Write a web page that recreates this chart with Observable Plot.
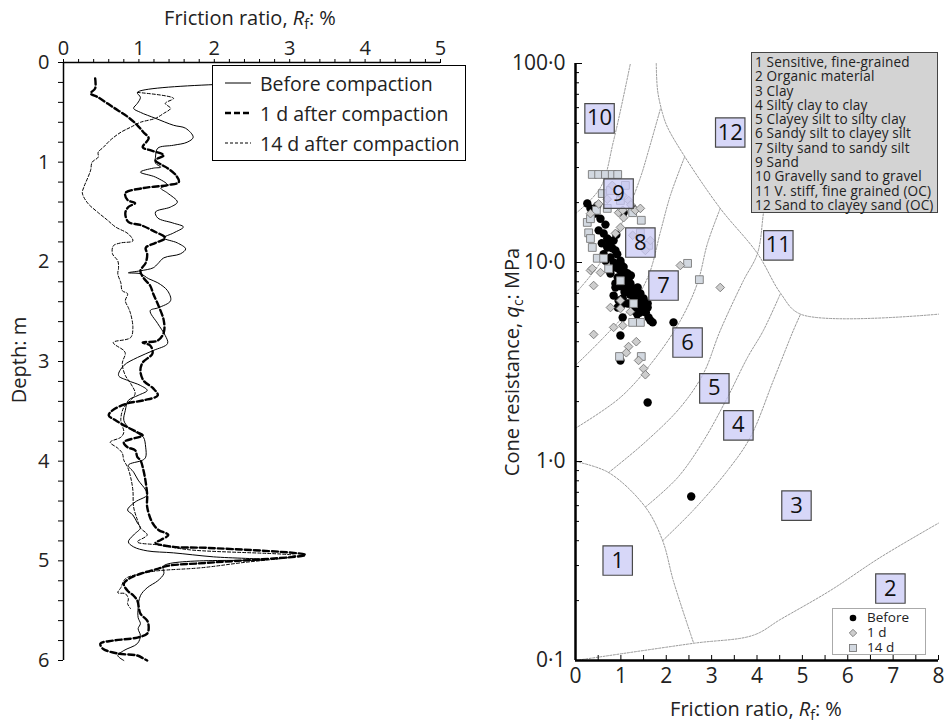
<!DOCTYPE html>
<html><head><meta charset="utf-8">
<script src="https://cdn.jsdelivr.net/npm/d3@7"></script>
<script src="https://cdn.jsdelivr.net/npm/@observablehq/plot@0.6"></script>
<style>
body{margin:0;background:#fff;font-family:"Open Sans",sans-serif;color:#222}
#wrap{position:relative;width:949px;height:726px;overflow:hidden;background:#fff}
.abs{position:absolute;white-space:nowrap}
.c{transform:translate(-50%,-50%)}
.rot{transform:translate(-50%,-50%) rotate(-90deg)}
sub{font-size:70%;vertical-align:-0.3em;line-height:0}
</style></head><body><div id="wrap"></div>
<script>
// ---------- LEFT PANEL: depth profiles, pairs [depth (m), Rf (%)] ----------
const profBefore = [[0.20,3.00],[0.30,0.98],[0.35,1.02],[0.41,0.98],[0.46,0.93],[0.50,1.02],[0.56,1.22],[0.63,1.46],[0.66,1.62],[0.75,1.72],[0.80,1.64],[0.83,1.46],[0.86,1.25],[0.95,1.22],[1.01,1.22],[1.05,1.29],[1.06,1.19],[1.10,1.02],[1.15,1.22],[1.23,1.38],[1.26,1.29],[1.31,1.38],[1.40,1.51],[1.45,1.42],[1.50,1.22],[1.56,1.25],[1.61,1.45],[1.65,1.59],[1.71,1.46],[1.76,1.33],[1.81,1.51],[1.87,1.62],[1.92,1.55],[1.96,1.33],[2.02,1.25],[2.06,1.19],[2.09,1.02],[2.11,0.86],[2.12,1.02],[2.17,1.13],[2.21,1.25],[2.29,1.38],[2.39,1.42],[2.46,1.26],[2.49,1.15],[2.62,1.25],[2.74,1.35],[2.82,1.38],[2.89,1.19],[2.96,0.98],[3.04,0.80],[3.14,0.73],[3.19,0.85],[3.24,1.02],[3.29,1.11],[3.34,0.99],[3.39,0.86],[3.49,0.82],[3.59,0.80],[3.66,0.86],[3.72,0.98],[3.76,1.06],[3.86,1.09],[3.96,1.09],[3.99,1.05],[4.04,0.86],[4.11,0.93],[4.19,0.99],[4.29,1.09],[4.34,1.11],[4.41,0.95],[4.49,0.85],[4.54,0.92],[4.62,0.98],[4.67,1.02],[4.74,0.93],[4.81,0.86],[4.86,0.93],[4.90,1.11],[4.92,1.46],[4.96,1.99],[4.99,2.68],[5.05,1.33],[5.13,1.33],[5.20,1.25],[5.27,1.11],[5.35,1.02],[5.47,0.99],[5.57,0.99],[5.63,1.02],[5.68,0.99],[5.75,1.02],[5.83,0.98],[5.90,0.80],[5.95,0.72],[6.00,0.80]];
const prof1d = [[0.16,0.42],[0.26,0.42],[0.31,0.36],[0.35,0.46],[0.45,0.66],[0.55,0.86],[0.63,0.98],[0.70,1.06],[0.76,1.13],[0.85,1.05],[0.88,1.15],[0.93,1.33],[0.98,1.22],[1.03,1.31],[1.06,1.38],[1.13,1.49],[1.20,1.53],[1.23,1.38],[1.26,1.06],[1.31,0.82],[1.38,0.85],[1.41,0.95],[1.45,0.86],[1.51,0.82],[1.60,0.86],[1.63,1.02],[1.69,1.19],[1.76,1.35],[1.81,1.22],[1.86,1.09],[1.92,1.11],[2.01,1.09],[2.09,1.02],[2.16,1.06],[2.24,1.15],[2.32,1.19],[2.44,1.26],[2.59,1.33],[2.71,1.33],[2.79,1.25],[2.81,1.05],[2.84,1.15],[2.92,1.18],[3.01,1.05],[3.09,1.02],[3.19,1.06],[3.27,1.19],[3.34,1.25],[3.39,1.06],[3.42,0.85],[3.49,0.65],[3.54,0.60],[3.59,0.69],[3.66,0.85],[3.71,0.98],[3.74,1.05],[3.81,0.80],[3.86,0.85],[3.89,0.95],[3.96,0.98],[3.99,1.02],[4.09,1.06],[4.21,1.09],[4.34,1.11],[4.46,1.11],[4.62,1.18],[4.69,1.26],[4.74,1.39],[4.79,1.29],[4.82,1.22],[4.86,1.46],[4.87,1.91],[4.94,3.21],[5.02,1.91],[5.05,1.38],[5.08,1.25],[5.12,1.06],[5.17,0.89],[5.23,0.80],[5.30,0.85],[5.35,0.93],[5.40,0.98],[5.53,1.02],[5.60,1.11],[5.67,1.13],[5.73,1.11],[5.77,0.98],[5.80,0.66],[5.83,0.49],[5.88,0.52],[5.93,0.72],[5.95,0.98],[5.98,1.06],[6.00,1.11]];
const prof14d = [[0.30,0.98],[0.36,1.46],[0.41,1.35],[0.46,1.42],[0.51,1.33],[0.56,1.22],[0.60,1.02],[0.65,0.89],[0.70,0.76],[0.78,0.62],[0.85,0.53],[0.90,0.46],[0.95,0.46],[1.00,0.38],[1.08,0.36],[1.16,0.32],[1.25,0.27],[1.31,0.25],[1.41,0.32],[1.50,0.45],[1.58,0.58],[1.65,0.69],[1.72,0.86],[1.79,0.92],[1.81,0.76],[1.84,0.66],[1.92,0.65],[1.99,0.72],[2.06,0.73],[2.12,0.72],[2.21,0.76],[2.29,0.78],[2.32,0.85],[2.39,0.82],[2.46,0.86],[2.52,0.89],[2.66,0.92],[2.76,0.89],[2.81,0.66],[2.89,0.80],[2.92,0.82],[3.02,0.78],[3.14,0.82],[3.22,0.89],[3.32,0.95],[3.39,0.89],[3.46,0.80],[3.59,0.76],[3.71,0.80],[3.76,0.76],[3.81,0.62],[3.87,0.72],[3.92,0.78],[3.99,0.80],[4.06,0.85],[4.16,0.89],[4.29,0.92],[4.46,0.93],[4.59,0.98],[4.67,1.02],[4.74,1.11],[4.81,0.98],[4.84,1.25],[4.89,1.68],[4.95,3.08],[5.02,2.35],[5.07,1.82],[5.10,1.25],[5.13,1.02],[5.18,0.82],[5.27,0.76],[5.32,0.72],[5.33,0.82],[5.38,0.86],[5.43,0.85],[5.48,0.89]];
const leftSeriesLabels = ["Before compaction","1 d after compaction","14 d after compaction"];
const leftXTicks = [0,1,2,3,4,5];
const leftYTicks = [0,1,2,3,4,5,6];

// ---------- RIGHT PANEL: CPT points, pairs [Rf (%), qc (MPa)] ----------
const ptsBefore = [[0.33,18.7],[0.44,17.6],[0.51,14.5],[0.55,16.6],[0.48,19.3],[0.26,19.8],[0.73,12.9],[0.84,12.9],[0.70,11.9],[0.81,11.8],[0.88,11.5],[0.62,11.0],[0.77,10.6],[0.84,10.0],[0.66,10.2],[0.99,10.2],[0.88,9.44],[0.77,8.81],[0.95,9.3],[0.99,9.12],[1.10,8.9],[1.15,8.8],[1.04,8.41],[0.93,8.41],[1.17,8.3],[1.21,7.84],[0.88,7.84],[0.88,7.49],[1.17,7.49],[1.37,7.49],[1.28,7.4],[1.37,6.98],[1.43,6.98],[0.84,6.82],[1.28,6.67],[1.04,6.6],[1.50,6.6],[0.95,6.44],[1.43,6.44],[1.15,6.22],[1.21,6.22],[1.59,6.22],[1.50,6.08],[1.37,6.08],[1.59,5.94],[1.48,5.94],[0.93,5.94],[1.28,5.74],[1.04,5.29],[1.61,5.29],[1.65,5.11],[1.70,5.0],[2.16,5.0],[0.99,4.30],[0.99,3.22],[1.59,1.98],[2.55,0.667],[1.26,18.7],[1.06,17.8],[0.62,14.0],[0.70,13.2],[0.77,12.4],[0.92,11.0],[1.00,9.8],[1.06,9.5],[1.12,8.2],[1.25,7.2],[1.32,7.0],[1.20,6.9],[1.08,7.1],[1.00,7.6],[1.30,6.3],[1.42,5.6],[1.36,5.5],[1.55,5.6],[0.90,13.8],[0.66,15.5],[0.58,12.5],[1.12,7.7],[1.22,8.6],[0.96,8.0],[1.05,6.2],[1.40,6.0]];
const pts1d = [[0.51,19.7],[0.33,17.6],[0.95,17.8],[1.04,18.3],[1.32,18.3],[1.43,18.7],[1.06,16.8],[0.99,15.0],[0.88,14.0],[1.26,13.7],[1.54,11.5],[1.65,12.9],[0.81,24.4],[1.04,21.7],[1.17,20.5],[0.33,9.12],[0.37,9.33],[0.55,8.9],[0.40,7.66],[0.77,5.94],[0.99,5.87],[1.21,5.66],[0.99,6.44],[0.84,4.72],[1.04,4.82],[0.40,4.35],[1.17,3.78],[1.34,4.0],[1.12,3.52],[1.39,3.22],[1.50,2.93],[1.54,2.73],[2.31,9.66],[3.19,7.49],[1.22,19.5],[0.70,20.8]];
const pts14d = [[0.37,27.7],[0.51,27.7],[0.66,27.7],[0.81,27.7],[0.93,27.7],[0.59,22.2],[0.46,18.3],[0.70,18.7],[0.26,15.9],[0.33,16.6],[0.29,14.1],[0.33,13.2],[0.37,11.9],[0.48,10.5],[0.62,10.5],[0.73,9.3],[0.99,8.1],[1.28,6.22],[1.26,5.0],[1.43,5.0],[1.45,16.3],[1.26,17.8],[2.47,9.9],[2.73,8.2],[0.97,3.37],[1.45,3.37],[0.77,23.0],[0.99,20.5],[1.10,24.4],[1.43,14.1],[1.61,12.2]];
const rightSeriesLabels = ["Before","1 d","14 d"];

// Soil behaviour type zone boundaries, pairs [Rf (%), qc (MPa)]
const bZone1 = [[0,1.0],[0.73,0.88],[1.54,0.59],[1.92,0.40],[2.16,0.25],[2.60,0.123]];
const bZone2 = [[0,0.10],[2.60,0.122],[3.92,0.134],[4.52,0.161],[5.62,0.225],[6.72,0.33],[8.0,0.49]];
const b10to9 = [[0,17.6],[0.55,23.8],[0.84,41],[1.21,100]];
const bZone12 = [[1.78,100],[1.81,73],[1.92,56],[2.03,47.7],[2.42,33.7],[3.19,18.7],[4.01,11.1],[4.52,7.0],[4.96,5.5],[8.0,5.5]];
const b9to8 = [[0,7.0],[0.55,10],[1.10,17.2],[1.43,26.7],[1.61,36.5],[1.87,59]];
const b8to7 = [[0,3.04],[0.62,4.2],[1.21,5.94],[1.61,8.6],[1.87,14.2],[2.09,21.7],[2.40,33.7]];
const b7to6 = [[0,1.47],[0.99,2.1],[1.72,3.22],[2.31,5.1],[2.69,7.9],[2.91,12.5],[3.19,18.7]];
const b6to5 = [[0.73,0.88],[1.50,1.23],[2.31,1.87],[2.82,2.77],[3.19,4.55],[3.70,8.1],[4.01,11.1],[4.14,17.6],[4.30,36.5],[4.47,100]];
const b5to4 = [[1.54,0.59],[2.25,0.83],[2.82,1.27],[3.35,2.1],[3.79,3.33],[4.14,4.55],[4.52,7.0]];
const b4to3 = [[1.92,0.40],[2.60,0.57],[3.35,0.90],[3.85,1.32],[4.36,2.55],[4.80,4.55],[4.96,5.5]];

const zoneIds = ["1","2","3","4","5","6","7","8","9","10","11","12"];
const zoneRf  = [0.93,6.94,4.87,3.59,3.06,2.47,1.94,1.43,0.95,0.53,4.47,3.41];
const zoneQc  = [0.318,0.23,0.60,1.52,2.33,3.96,7.66,12.6,22.2,53,12.2,45];
const zoneNames = ["1 Sensitive, fine-grained","2 Organic material","3 Clay","4 Silty clay to clay","5 Clayey silt to silty clay","6 Sandy silt to clayey silt","7 Silty sand to sandy silt","9 Sand","10 Gravelly sand to gravel","11 V. stiff, fine grained (OC)","12 Sand to clayey sand (OC)"];

const rightXTicks = [0,1,2,3,4,5,6,7,8];
const rightYTicks = [0.1,1,10,100];
const rightYTickLabels = ["0·1","1·0","10·0","100·0"];

// ---------------------------------------------------------------
const F = '"Open Sans", sans-serif';
const wrap = document.getElementById("wrap");

const leftXMinor = d3.range(0, 5.001, 0.2);
const leftYMinor = d3.range(0, 6.001, 0.2);

const left = Plot.plot({
  width: 480, height: 726,
  marginLeft: 63, marginRight: 40, marginTop: 62, marginBottom: 66,
  style: {fontFamily: F, fontSize: "20px", color: "#222", background: "transparent", overflow: "visible"},
  x: {domain: [0, 5]},
  y: {domain: [0, 6], reverse: true},
  marks: [
    Plot.axisX({anchor: "top", ticks: leftXMinor, tickSize: 4, fill: "none", stroke: "#000", label: null}),
    Plot.axisX({anchor: "top", ticks: leftXTicks, tickSize: 0, tickPadding: 8, label: null, fill: "#222", fontSize: 20, tickFormat: d => String(d)}),
    Plot.axisY({anchor: "left", ticks: leftYMinor, tickSize: 5, fill: "none", stroke: "#000", label: null}),
    Plot.axisY({anchor: "left", ticks: leftYTicks, tickSize: 0, tickPadding: 14, label: null, fill: "#222", fontSize: 20, tickFormat: d => String(d)}),
    Plot.ruleX([0], {stroke: "#000", strokeWidth: 1.5}),
    Plot.ruleY([0], {stroke: "#000", strokeWidth: 1.5}),
    Plot.line(profBefore, {x: d => d[1], y: d => d[0], stroke: "#000", strokeWidth: 1, curve: "catmull-rom"}),
    Plot.line(prof14d, {x: d => d[1], y: d => d[0], stroke: "#000", strokeWidth: 1, strokeDasharray: "3,2", curve: "catmull-rom"}),
    Plot.line(prof1d, {x: d => d[1], y: d => d[0], stroke: "#000", strokeWidth: 2.4, strokeDasharray: "6,3", curve: "catmull-rom"})
  ]
});
left.style.position = "absolute"; left.style.left = "0px"; left.style.top = "0px";
wrap.appendChild(left);

const rightXMinor = d3.range(0, 8.001, 0.5);
const rightYMinor = [0.1, 1, 10].flatMap(b => [2,3,4,5,6,7,8,9].map(m => +(m * b).toPrecision(3)));
const boundaries = [bZone1, bZone2, b10to9, bZone12, b9to8, b8to7, b7to6, b6to5, b5to4, b4to3];
const zones = zoneIds.map((id, i) => ({id, rf: zoneRf[i], qc: zoneQc[i]}));

const right = Plot.plot({
  width: 469, height: 726,
  marginLeft: 95, marginRight: 11, marginTop: 63, marginBottom: 66,
  style: {fontFamily: F, fontSize: "20px", color: "#222", background: "transparent", overflow: "visible"},
  x: {domain: [0, 8]},
  y: {type: "log", domain: [0.1, 100]},
  marks: [
    ...boundaries.map(b => Plot.line(b, {x: d => d[0], y: d => d[1], stroke: "#8c8c8c", strokeWidth: 0.9, strokeDasharray: "2,1.5", curve: "catmull-rom"})),
    Plot.dot(ptsBefore, {x: d => d[0], y: d => d[1], r: 4.2, fill: "#000", stroke: "none"}),
    Plot.dot(pts14d, {x: d => d[0], y: d => d[1], symbol: "square", r: 4.4, fill: "#d2d8e0", stroke: "#7a7a7a", strokeWidth: 0.9}),
    Plot.dot(pts1d, {x: d => d[0], y: d => d[1], symbol: "diamond2", r: 3.9, fill: "#cdcdcd", stroke: "#777", strokeWidth: 0.9}),
    Plot.dot(zones, {x: "rf", y: "qc", symbol: "square", r: 16.6, fill: "#c9c9f5", fillOpacity: 0.75, stroke: "#4a4a4a", strokeWidth: 1.2}),
    Plot.text(zones, {x: "rf", y: "qc", text: "id", fontSize: 22, fill: "#111"}),
    Plot.axisX({ticks: rightXMinor, tickSize: -5, fill: "none", stroke: "#000", label: null}),
    Plot.axisX({ticks: rightXTicks, tickSize: 0, tickPadding: 8, label: null, fill: "#222", fontSize: 21, tickFormat: d => String(d)}),
    Plot.axisY({ticks: rightYMinor, tickSize: -4, fill: "none", stroke: "#000", label: null}),
    Plot.axisY({ticks: rightYTicks, tickSize: -7, fill: "none", stroke: "#000", label: null}),
    Plot.axisY({ticks: rightYTicks, tickSize: 0, tickPadding: 10, label: null, fill: "#222", fontSize: 21, tickFormat: d => rightYTickLabels[rightYTicks.indexOf(d)]}),
    Plot.ruleX([0], {stroke: "#000", strokeWidth: 2.5}),
    Plot.ruleY([0.1], {stroke: "#000", strokeWidth: 2.5})
  ]
});
right.style.position = "absolute"; right.style.left = "480px"; right.style.top = "0px";
wrap.appendChild(right);

// ---------- text overlays ----------
function addDiv(html, css, cls) {
  const d = document.createElement("div");
  d.className = "abs " + (cls || "");
  d.innerHTML = html;
  Object.assign(d.style, css);
  wrap.appendChild(d);
  return d;
}
const rfLabel = 'Friction ratio, <i>R</i><sub>f</sub>: %';
addDiv(rfLabel, {left: "250px", top: "17px", fontSize: "20px"}, "c");
addDiv("Depth: m", {left: "18px", top: "360px", fontSize: "20px"}, "rot");
addDiv(rfLabel, {left: "756px", top: "708px", fontSize: "20px"}, "c");
addDiv('Cone resistance, <i>q</i><sub>c</sub>: MPa', {left: "511px", top: "362px", fontSize: "20px"}, "rot");

// left legend
const legL = addDiv("", {left: "212px", top: "65px", width: "252px", height: "94px", border: "1px solid #000", background: "#fff"});
const dashes = [null, "6,3", "3,2"], widths = [1, 2.4, 1];
leftSeriesLabels.forEach((lab, i) => {
  const row = document.createElement("div");
  row.style.cssText = `position:absolute;left:12px;top:${4 + i * 30}px;height:26px;display:flex;align-items:center;font-size:19.5px;color:#222`;
  row.innerHTML = `<svg width="28" height="10" style="margin-right:7px"><line x1="0" x2="26" y1="5" y2="5" stroke="#000" stroke-width="${widths[i]}" ${dashes[i] ? `stroke-dasharray="${dashes[i]}"` : ""}/></svg>${lab}`;
  legL.appendChild(row);
});

// zone legend
const legZ = addDiv("", {left: "751px", top: "52px", width: "187px", height: "161px", border: "1px solid #444", background: "#d3d3d3", boxSizing: "border-box", padding: "2px 0 0 3px", fontSize: "13.6px", lineHeight: "14.3px", letterSpacing: "0.15px", color: "#222"});
legZ.innerHTML = zoneNames.map(n => `<div>${n}</div>`).join("");

// right series legend
const legR = addDiv("", {left: "832px", top: "608px", width: "94px", height: "47px", border: "1px solid #aaa", background: "#fff", boxSizing: "border-box", fontSize: "13.5px", color: "#222"});
const syms = [
  '<circle cx="6" cy="6" r="3.3" fill="#000"/>',
  '<path d="M6 2.3 L9.7 6 L6 9.7 L2.3 6Z" fill="#cdcdcd" stroke="#777" stroke-width="0.9"/>',
  '<rect x="2.5" y="2.5" width="7" height="7" fill="#d2d8e0" stroke="#7a7a7a" stroke-width="0.9"/>'
];
rightSeriesLabels.forEach((lab, i) => {
  const row = document.createElement("div");
  row.style.cssText = `position:absolute;left:14px;top:${1 + i * 15}px;height:15px;display:flex;align-items:center;line-height:15px`;
  row.innerHTML = `<svg width="12" height="12" style="margin-right:8px">${syms[i]}</svg>${lab}`;
  legR.appendChild(row);
});
</script></body></html>
